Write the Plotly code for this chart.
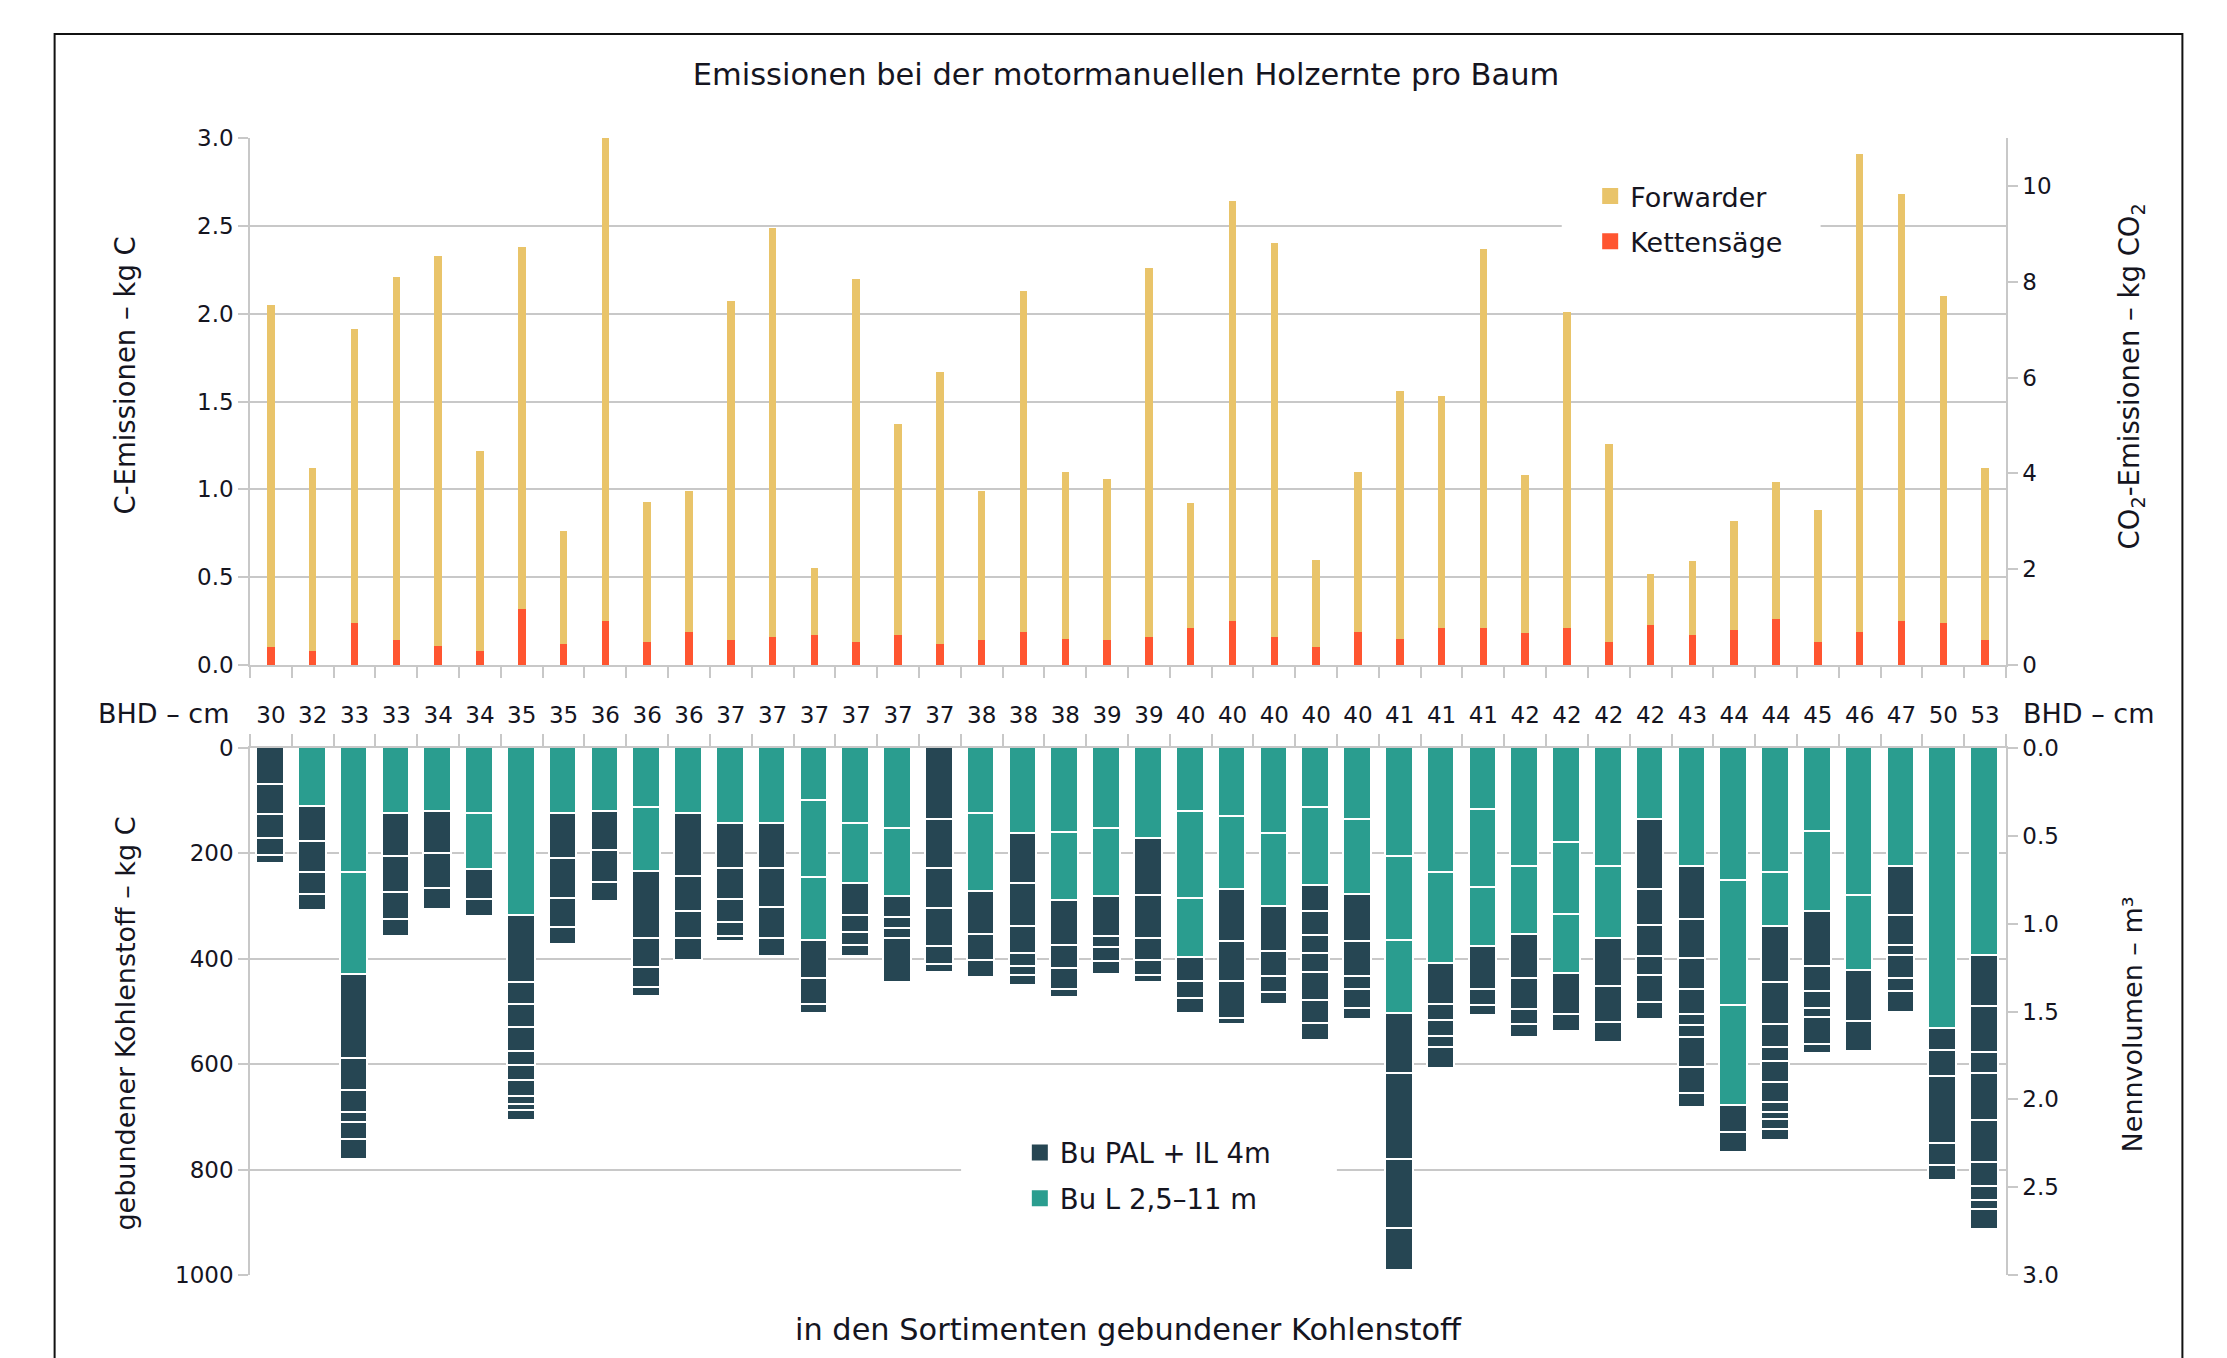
import plotly.graph_objects as go

# ---------------- data ----------------
bhd_cm = [30, 32, 33, 33, 34, 34, 35, 35, 36, 36, 36, 37, 37, 37, 37, 37, 37, 38, 38, 38, 39,
          39, 40, 40, 40, 40, 40, 41, 41, 41, 42, 42, 42, 42, 43, 44, 44, 45, 46, 47, 50, 53]

# C emissions per tree, kg C (Kettensäge at the base, Forwarder stacked on top)
kettensaege = [0.10, 0.08, 0.24, 0.14, 0.11, 0.08, 0.32, 0.12, 0.25, 0.13, 0.19, 0.14, 0.16, 0.17,
               0.13, 0.17, 0.12, 0.14, 0.19, 0.15, 0.14, 0.16, 0.21, 0.25, 0.16, 0.10, 0.19, 0.15,
               0.21, 0.21, 0.18, 0.21, 0.13, 0.23, 0.17, 0.20, 0.26, 0.13, 0.19, 0.25, 0.24, 0.14]
forwarder = [1.95, 1.04, 1.67, 2.07, 2.22, 1.14, 2.06, 0.64, 2.76, 0.80, 0.80, 1.93, 2.33, 0.38,
             2.07, 1.20, 1.55, 0.85, 1.94, 0.95, 0.92, 2.10, 0.71, 2.39, 2.24, 0.50, 0.91, 1.41,
             1.32, 2.16, 0.90, 1.80, 1.13, 0.29, 0.42, 0.62, 0.78, 0.75, 2.72, 2.43, 1.86, 0.98]

# bound carbon per log (kg C), per tree: "Bu L 2,5-11 m" logs and "Bu PAL + IL 4m" logs
bu_l_logs = [[], [111], [237, 194], [126], [121], [126, 106], [318], [126], [121], [114, 121],
             [126], [144], [144], [100, 147, 119], [144, 114], [154, 128], [], [126, 147], [163],
             [162, 129], [154, 128], [172], [121, 165, 113], [130, 139], [163, 138], [114, 147],
             [136, 143], [206, 160, 139], [237, 173], [118, 147, 113], [225, 129],
             [180, 136, 113], [225, 138], [136], [225], [253, 236, 191], [237, 103], [160, 152],
             [280, 143], [225], [533], [395]]
bu_pal_logs = [[70, 57, 46, 32, 16], [67, 59, 42, 31], [159, 60, 43, 19, 31, 39], [80, 70, 51, 32],
               [80, 67, 39], [57, 31], [128, 41, 44, 45, 27, 28, 32, 15, 10, 20], [84, 76, 56, 31],
               [75, 60, 36], [128, 55, 38, 16], [118, 68, 51, 41], [85, 60, 44, 25, 10],
               [85, 75, 59, 34], [72, 50, 17], [61, 32, 24, 22], [40, 22, 19, 83],
               [136, 93, 77, 72, 34, 15], [81, 51, 31], [95, 82, 51, 24, 17, 19], [85, 44, 39, 16],
               [77, 21, 27, 24], [108, 83, 42, 27, 14], [45, 33, 28], [100, 75, 70, 12],
               [86, 48, 29, 23], [51, 45, 34, 36, 53, 43, 33], [90, 66, 24, 36, 21],
               [113, 164, 131, 79], [78, 30, 30, 22, 39], [81, 30, 19], [84, 60, 27, 25],
               [78, 31], [90, 69, 37], [134, 67, 60, 36, 51, 32],
               [102, 73, 59, 48, 21, 22, 58, 49, 26], [51, 37],
               [106, 79, 45, 25, 41, 37, 19, 14, 18, 22], [103, 48, 32, 17, 52, 16], [97, 57],
               [94, 56, 19, 44, 25, 39], [42, 49, 128, 42, 28],
               [97, 86, 40, 89, 81, 45, 26, 17, 39]]

c_ticks = [0, 0.5, 1.0, 1.5, 2.0, 2.5, 3.0]
co2_ticks = [0, 2, 4, 6, 8, 10]
bound_ticks = [0, 200, 400, 600, 800, 1000]
vol_ticks = [0.0, 0.5, 1.0, 1.5, 2.0, 2.5, 3.0]

# ---------------- style ----------------
FONT = "DejaVu Sans"
TXT = "#15151f"
GRID = "#c8c8c8"
C_FWD = "#E9C46A"
C_SAW = "#FF5530"
C_PAL = "#264653"
C_L = "#2A9D8F"

n = len(bhd_cm)
idx = list(range(n))
boundaries = [i - 0.5 for i in range(n + 1)]

# page geometry (the html body adds an 8 px margin inside the window)
W, H = 2219, 1350
ML, MR, MT, MB = 241.5, 220.5, 130, 83
PW, PH = W - ML - MR, H - MT - MB


def px(xw):  # window pixel -> paper x
    return (xw - 8 - ML) / PW


def py(yw):  # window pixel -> paper y
    return (H - MB - (yw - 8)) / PH


def cx(xw):  # window pixel -> category axis unit
    return (xw - 8 - ML) / PW * n - 0.5


fig = go.Figure()

# top panel: emissions
fig.add_trace(go.Bar(x=idx, y=kettensaege, name="Kettensäge", marker_color=C_SAW, width=0.18,
                     xaxis="x", yaxis="y", showlegend=False, marker_line_width=0))
fig.add_trace(go.Bar(x=idx, y=forwarder, name="Forwarder", marker_color=C_FWD, width=0.18,
                     xaxis="x", yaxis="y", showlegend=False, marker_line_width=0))

# bottom panel: bound carbon, one trace per log position
max_l = max(len(s) for s in bu_l_logs)
max_p = max(len(s) for s in bu_pal_logs)
for k in range(max_l):
    fig.add_trace(go.Bar(
        x=idx, y=[s[k] if k < len(s) else None for s in bu_l_logs],
        name="Bu L 2,5–11 m", marker=dict(color=C_L, line=dict(color="white", width=1.6)),
        width=0.66, xaxis="x2", yaxis="y2", showlegend=False))
for k in range(max_p):
    fig.add_trace(go.Bar(
        x=idx, y=[s[k] if k < len(s) else None for s in bu_pal_logs],
        name="Bu PAL + IL 4m", marker=dict(color=C_PAL, line=dict(color="white", width=1.6)),
        width=0.66, xaxis="x2", yaxis="y2", showlegend=False))

# legend entries (square keys)
for name, col, xa, ya, lg, grp in (("Forwarder", C_FWD, "x", "y", "legend", "a"),
                                   ("Kettensäge", C_SAW, "x", "y", "legend", "b"),
                                   ("Bu PAL + IL 4m", C_PAL, "x2", "y2", "legend2", "c"),
                                   ("Bu L 2,5–11 m", C_L, "x2", "y2", "legend2", "d")):
    fig.add_trace(go.Scatter(x=[None], y=[None], mode="markers", name=name,
                             marker=dict(symbol="square", size=16, color=col),
                             xaxis=xa, yaxis=ya, legend=lg, legendgroup=grp, hoverinfo="skip"))

# invisible helpers so the secondary axes are rendered
for xa, ya in (("x", "y3"), ("x2", "y4"), ("x3", "y2")):
    fig.add_trace(go.Scatter(x=idx, y=[None] * n, xaxis=xa, yaxis=ya, mode="markers",
                             showlegend=False, hoverinfo="skip"))

axis_common = dict(showgrid=False, linecolor=GRID, linewidth=1.5, tickcolor=GRID, tickwidth=1.5,
                   tickfont=dict(family=FONT, size=23, color=TXT), zeroline=False)

fig.update_layout(
    width=W, height=H,
    paper_bgcolor="white", plot_bgcolor="white",
    margin=dict(l=ML, r=MR, t=MT, b=MB),
    barmode="stack", bargap=0,
    font=dict(family=FONT, color=TXT),
    title=dict(text="Emissionen bei der motormanuellen Holzernte pro Baum",
               x=(1126 - 8) / W, xref="container", y=1 - (74 - 8) / H, yref="container",
               xanchor="center", yanchor="middle",
               font=dict(family=FONT, size=30.5, color=TXT)),
    xaxis=dict(axis_common, domain=[0, 1], anchor="y", range=[-0.5, n - 0.5],
               tickvals=boundaries, ticks="outside", ticklen=11, showticklabels=False,
               showline=True),
    yaxis=dict(axis_common, domain=[0.5365, 1], anchor="x", range=[0, 3],
               tickvals=c_ticks, tickformat=".1f", showgrid=True, gridcolor=GRID, gridwidth=1.5,
               ticks="outside", ticklen=10, showline=True),
    yaxis3=dict(axis_common, overlaying="y", side="right", anchor="x", range=[0, 3 * 44 / 12],
                tickvals=co2_ticks, ticks="outside", ticklen=10, showline=True),
    xaxis2=dict(axis_common, domain=[0, 1], anchor="y2", side="top", range=[-0.5, n - 0.5],
                tickvals=boundaries, ticks="outside", ticklen=12, showticklabels=False,
                showline=True),
    xaxis3=dict(axis_common, overlaying="x2", anchor="y2", side="top", range=[-0.5, n - 0.5],
                tickvals=idx, ticktext=[str(v) for v in bhd_cm], ticks="outside",
                tickcolor="rgba(0,0,0,0)", ticklen=15, showline=False),
    yaxis2=dict(axis_common, domain=[0, 0.4635], anchor="x2", range=[1000, 0],
                tickvals=bound_ticks, showgrid=True, gridcolor=GRID, gridwidth=1.5,
                ticks="outside", ticklen=10, showline=True),
    yaxis4=dict(axis_common, overlaying="y2", side="right", anchor="x2", range=[3, 0],
                tickvals=vol_ticks, tickformat=".1f", ticks="outside", ticklen=10,
                showline=True),
    legend=dict(x=0.7632, y=0.9701, xanchor="left", yanchor="top", bgcolor="white",
                font=dict(family=FONT, size=27, color=TXT), traceorder="grouped",
                tracegroupgap=7, borderwidth=0),
    legend2=dict(x=0.4384, y=0.1292, xanchor="left", yanchor="top", bgcolor="white",
                 font=dict(family=FONT, size=27.5, color=TXT), traceorder="grouped",
                 tracegroupgap=7, borderwidth=0),
    showlegend=True,
)

ann_font = dict(family=FONT, size=27.5, color=TXT)
lab_font = dict(family=FONT, size=27, color=TXT)
annotations = [
    dict(text="C-Emissionen – kg C", x=px(124), y=py(376), textangle=-90, font=ann_font),
    dict(text="gebundener Kohlenstoff – kg C", x=px(124), y=py(1024), textangle=-90,
         font=dict(family=FONT, size=27, color=TXT)),
    dict(text="CO<sub>2</sub>-Emissionen – kg CO<sub>2</sub>", x=px(2133), y=py(376),
         textangle=-90, font=ann_font),
    dict(text="Nennvolumen – m³", x=px(2133), y=py(1024), textangle=-90,
         font=dict(family=FONT, size=27, color=TXT)),
    dict(text="BHD – cm", x=px(163), y=py(713), font=lab_font),
    dict(text="BHD – cm", x=px(2089), y=py(713), font=lab_font),
    dict(text="in den Sortimenten gebundener Kohlenstoff", x=px(1129), y=py(1329),
         font=dict(family=FONT, size=30.4, color=TXT)),
]
for a in annotations:
    a.update(xref="paper", yref="paper", showarrow=False, xanchor="center", yanchor="middle")
fig.update_layout(annotations=annotations)

# white breaks in the grid lines behind the two legends (between grid and bars)
fig.add_shape(type="rect", xref="x", yref="y", x0=cx(1562), x1=cx(1821), y0=2.42, y1=2.58,
              line_width=0, fillcolor="white", layer="between")
fig.add_shape(type="rect", xref="x2", yref="y2", x0=cx(961), x1=cx(1337), y0=785, y1=815,
              line_width=0, fillcolor="white", layer="between")

# outer frame of the figure
fig.add_shape(type="rect", xref="paper", yref="paper", x0=px(54), x1=px(2183), y0=py(1400),
              y1=py(34), line=dict(color="#111111", width=2), fillcolor="rgba(0,0,0,0)",
              layer="above")

fig.write_html("out.html")
